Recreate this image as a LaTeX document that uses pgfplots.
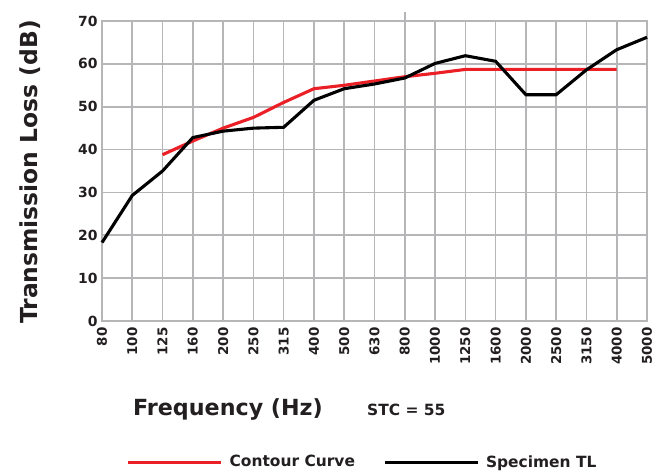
\documentclass[border=0pt]{standalone}
\usepackage{pgfplots}
\pgfplotsset{compat=1.18}
\usepackage{fontspec}
\setmainfont{DejaVu Sans}
\definecolor{cred}{RGB}{234,32,38}
\definecolor{cgrid}{RGB}{182,182,184}
\definecolor{ctext}{RGB}{35,31,32}
\begin{document}
\begin{tikzpicture}
\useasboundingbox (0,0) rectangle (664bp,476bp);
\begin{axis}[
  at={(102bp,155bp)}, anchor=south west,
  scale only axis, width=545bp, height=300bp,
  xmin=0, xmax=18, ymin=0, ymax=70,
  clip=false,
  xtick={0,...,18},
  xticklabels={80,100,125,160,200,250,315,400,500,630,800,1000,1250,1600,2000,2500,3150,4000,5000},
  ytick={0,10,...,70},
  grid=major,
  major grid style={cgrid, line width=1.6bp},
  axis line style={cgrid, line width=1.6bp},
  tick style={draw=none},
  /pgf/number format/assume math mode=true,
  x tick label style={rotate=90, anchor=east, font=\bfseries\fontsize{13.5}{13.5}\selectfont, text=ctext, xshift=-3bp},
  y tick label style={font=\bfseries\fontsize{14}{14}\selectfont, text=ctext, xshift=-1bp},
  legend style={at={(0.478,-0.47)}, anchor=center, draw=none, legend columns=2,
    font=\bfseries\fontsize{15.5}{15.5}\selectfont, text=ctext,
    /tikz/every even column/.append style={column sep=26bp}},
  legend image code/.code={\draw[#1, line width=3bp] (0bp,0bp) -- (93bp,0bp); \path (98bp,0bp);},
]
\draw[cgrid, line width=1.6bp] (axis cs:10,70) -- (axis cs:10,72.2);
\addplot[cred, line width=3.1bp] coordinates {
 (2,38.8) (3,42) (4,45) (5,47.5) (6,51) (7,54.2) (8,55) (9,56) (10,57) (11,57.8)
 (12,58.7) (13,58.7) (14,58.7) (15,58.7) (16,58.7) (17,58.7)};
\addlegendentry{Contour Curve}
\addplot[black, line width=3.1bp] coordinates {
 (0,18.3) (1,29.3) (2,35) (3,42.8) (4,44.3) (5,45) (6,45.2) (7,51.5) (8,54.2)
 (9,55.3) (10,56.7) (11,60.1) (12,61.9) (13,60.6) (14,52.8) (15,52.8) (16,58.6) (17,63.3) (18,66.2)};
\addlegendentry{Specimen TL}
\end{axis}
\node[rotate=90, text=ctext, font=\bfseries\fontsize{23.5}{23.5}\selectfont] at (30bp,304bp) {Transmission Loss (dB)};
\node[anchor=west, text=ctext, font=\bfseries\fontsize{22.3}{22.3}\selectfont, inner sep=0pt] at (133bp,67bp) {Frequency (Hz)};
\node[anchor=west, text=ctext, font=\bfseries\fontsize{15.5}{15.5}\selectfont, inner sep=0pt] at (367bp,66bp) {STC = 55};
\end{tikzpicture}
\end{document}
